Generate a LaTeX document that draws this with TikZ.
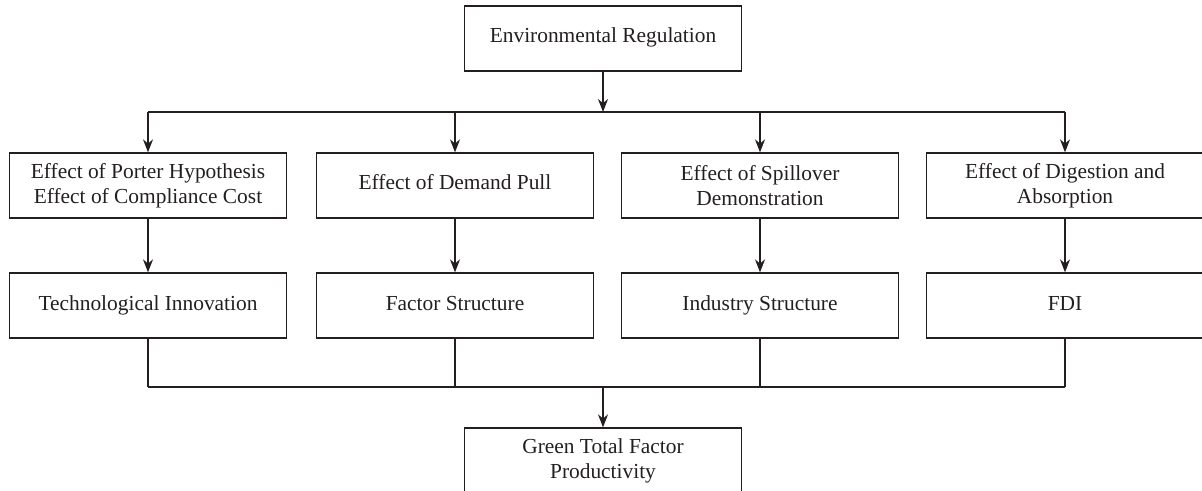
\documentclass[tikz,border=0pt]{standalone}
\usepackage{fontspec}
\setmainfont{Liberation Serif}
\usetikzlibrary{arrows.meta}
\definecolor{ink}{HTML}{231F20}

\begin{document}
\begin{tikzpicture}[x=0.5pt,y=-0.5pt,>={Stealth[length=6.5pt,width=5pt]},line width=0.65pt,draw=ink,
	box/.style={shape=rectangle,draw=ink,text=ink,minimum width=138.5pt,minimum height=32.5pt,inner sep=2pt,align=center,font=\fontsize{10.7}{12.5}\selectfont},
	onebox/.style={box,text height=0.7em,text depth=0.25em}]
	    \useasboundingbox (0,0) rectangle (1202,491);

	    \node[onebox] (reg) at (603,38.5) {Environmental Regulation};

	    \node[box] (porter) at (148,185.5) {Effect of Porter Hypothesis\\Effect of Compliance Cost};
	    \node[onebox] (demand) at (455,185.5) {Effect of Demand Pull};
	    \node[box] (spill) at (760,185.5) {Effect of Spillover\\Demonstration};
	    \node[box] (digest) at (1065,185.5) {Effect of Digestion and\\Absorption};

	    \node[onebox] (tech) at (148,305.5) {Technological Innovation};
	    \node[onebox] (factor) at (455,305.5) {Factor Structure};
	    \node[onebox] (industry) at (760,305.5) {Industry Structure};
	    \node[onebox] (fdi) at (1065,305.5) {FDI};

	    \node[box] (gtfp) at (603,460.5) {Green Total Factor\\Productivity};

	    \coordinate (topmid) at (603,112);
	    \coordinate (topleft) at (148,112);
	    \coordinate (topright) at (1065,112);
	    \coordinate (botmid) at (603,387);
	    \coordinate (botleft) at (148,387);
	    \coordinate (botright) at (1065,387);

	    \path [->] (reg) edge (topmid);
	    \draw (topleft) -- (topright);
	    \path [->] (topleft) edge (porter);
	    \path [->] (demand |- topmid) edge (demand);
	    \path [->] (spill |- topmid) edge (spill);
	    \path [->] (topright) edge (digest);

	    \path [->] (porter) edge (tech);
	    \path [->] (demand) edge (factor);
	    \path [->] (spill) edge (industry);
	    \path [->] (digest) edge (fdi);

	    \path (tech) edge (botleft);
	    \path (factor) edge (factor |- botmid);
	    \path (industry) edge (industry |- botmid);
	    \path (fdi) edge (botright);
	    \draw (botleft) -- (botright);
	    \path [->] (botmid) edge (gtfp);
	\end{tikzpicture}
\end{document}
